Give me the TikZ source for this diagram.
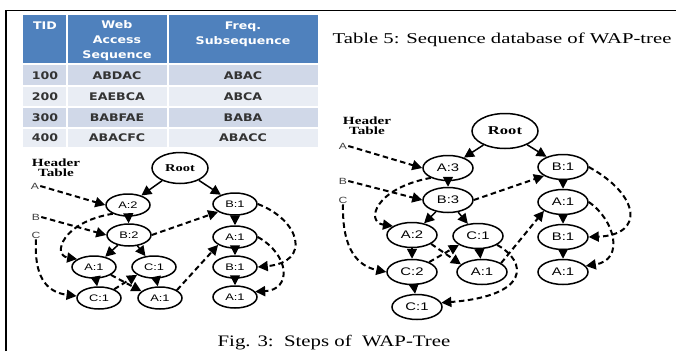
\documentclass[tikz,border=0pt]{standalone}
\usepackage{fontspec}
\setmainfont{Liberation Serif}
\newfontfamily\tabfont[FakeStretch=1.2]{DejaVu Sans}
\newfontfamily\lab[FakeStretch=1.35]{Liberation Sans}
\newfontfamily\ser[FakeStretch=1.38]{Liberation Serif}
\newfontfamily\serb[FakeStretch=1.3]{Liberation Serif}
\usetikzlibrary{shapes.geometric,arrows.meta}
\definecolor{hdr}{HTML}{4F81BD}
\definecolor{rowA}{HTML}{D0D8E8}
\definecolor{rowB}{HTML}{E9EDF4}
\tikzset{
 nd/.style={ellipse, draw, line width=1.5pt, inner sep=0pt, minimum width=44pt, minimum height=22pt, font=\lab\fontsize{9.5}{9.5}\selectfont},
 ndR/.style={nd, minimum width=50pt, minimum height=25pt, font=\lab\fontsize{11}{11}\selectfont},
 rootL/.style={nd, minimum width=56pt, minimum height=31pt, font=\ser\bfseries\fontsize{10.5}{10.5}\selectfont},
 rootR/.style={nd, minimum width=66pt, minimum height=35pt, font=\ser\bfseries\fontsize{12}{12}\selectfont},
 tr/.style={line width=1.5pt, -{Triangle[length=10pt,width=10pt]}},
 hl/.style={line width=2pt, dash pattern=on 5.5pt off 3.5pt, -{Triangle[length=10pt,width=10pt]}},
 hlab/.style={font=\lab\fontsize{9}{9}\selectfont, text=black!75, inner sep=1pt},
 htab/.style={font=\ser\bfseries\fontsize{11}{11}\selectfont, align=center, inner sep=0pt},
 th/.style={font=\tabfont\bfseries\fontsize{10.5}{15}\selectfont, text=white, align=center, inner sep=0pt},
 td/.style={font=\tabfont\bfseries\fontsize{10.5}{12}\selectfont, text=black!80, inner sep=0pt},
 captext/.style={font=\ser\fontsize{15}{15}\selectfont, inner sep=0pt, anchor=base},
 figtext/.style={font=\serb\fontsize{16}{16}\selectfont, inner sep=0pt, anchor=base},
}
\begin{document}
\begin{tikzpicture}[x=1pt,y=-1pt]
\useasboundingbox (0,0) rectangle (676,351);
\fill[white] (0,0) rectangle (676,351);
% frame
\draw[line width=1.4pt] (6,351) -- (6,10.5) -- (676,10.5);
% table
\fill[hdr] (23,15) rectangle (318,64);
\fill[rowA] (23,64) rectangle (318,86);
\fill[rowB] (23,86) rectangle (318,107);
\fill[rowA] (23,107) rectangle (318,128);
\fill[rowB] (23,128) rectangle (318,147);
\draw[white, line width=1.2pt] (67,15) -- (67,147) (168,15) -- (168,147)
  (23,64) -- (318,64) (23,86) -- (318,86) (23,107) -- (318,107) (23,128) -- (318,128);
\node[th] (h1) at (45,26) {TID};
\node[th] (h2) at (117,41) {Web\\Access\\Sequence};
\node[th] (h3) at (243,34.5) {Freq.\\Subsequence};
\node[td] (r1a) at (45,76) {100};
\node[td] (r1b) at (117,76) {ABDAC};
\node[td] (r1c) at (243,76) {ABAC};
\node[td] (r2a) at (45,97) {200};
\node[td] (r2b) at (117,97) {EAEBCA};
\node[td] (r2c) at (243,97) {ABCA};
\node[td] (r3a) at (45,118) {300};
\node[td] (r3b) at (117,118) {BABFAE};
\node[td] (r3c) at (243,118) {BABA};
\node[td] (r4a) at (45,137.5) {400};
\node[td] (r4b) at (117,137.5) {ABACFC};
\node[td] (r4c) at (243,137.5) {ABACC};
% captions
\node[captext] (tcap) at (502,43) {Table 5: Sequence database of WAP-tree};
\node[figtext] (fcap) at (334,346) {Fig. 3:\ \ Steps of\ \ WAP-Tree};

% ---------- left tree ----------
\node[htab] (LHT) at (56,167.5) {Header\\[-1pt]Table};
\node[hlab] (LhA) at (35,186) {A};
\node[hlab] (LhB) at (36,217) {B};
\node[hlab] (LhC) at (36,235) {C};
\node[rootL] (LRoot) at (180,168) {Root};
\node[nd] (LA2) at (128,205) {A:2};
\node[nd] (LB2) at (129,235) {B:2};
\node[nd] (LA1a) at (94,267) {A:1};
\node[nd] (LC1a) at (154,267) {C:1};
\node[nd] (LC1b) at (99,298) {C:1};
\node[nd] (LA1b) at (160,298) {A:1};
\node[nd] (LB1a) at (235,204) {B:1};
\node[nd] (LA1c) at (235,237) {A:1};
\node[nd] (LB1b) at (235,267) {B:1};
\node[nd] (LA1d) at (235,297) {A:1};
\draw[tr] (LRoot) -- (LA2);
\draw[tr] (LRoot) -- (LB1a);
\draw[tr] (LA2) -- (LB2);
\draw[tr] (LB2) -- (LA1a);
\draw[tr] (LB2) -- (LC1a);
\draw[tr] (LA1a) -- (LC1b);
\draw[tr] (LC1a) -- (LA1b);
\draw[tr] (LB1a) -- (LA1c);
\draw[tr] (LA1c) -- (LB1b);
\draw[tr] (LB1b) -- (LA1d);
% header links
\draw[hl] (LhA.east) -- (LA2.west);
\draw[hl] (LA2.210) .. controls (62,222) and (52,255) .. (LA1a.155);
\draw[hl] (LA1a.-25) -- (LA1b.160);
\draw[hl] (LA1b.25) -- (LA1c.205);
\draw[hl] (LA1c.east) .. controls (290,255) and (292,290) .. (LA1d.15);
\draw[hl] (LhB.east) -- (LB2.west);
\draw[hl] (LB2.east) -- (LB1a.205);
\draw[hl] (LB1a.east) .. controls (300,220) and (312,262) .. (LB1b.east);
\draw[hl] (LhC.south) .. controls (34,275) and (45,292) .. (LC1b.175);
\draw[hl] (LC1b.30) -- (LC1a.205);

% ---------- right tree ----------
\node[htab] (RHT) at (367,125.5) {Header\\[-1pt]Table};
\node[hlab] (RhA) at (343,146) {A};
\node[hlab] (RhB) at (343,181) {B};
\node[hlab] (RhC) at (343,200) {C};
\node[rootR] (RRoot) at (505,131) {Root};
\node[ndR] (RA3) at (448,168) {A:3};
\node[ndR] (RB3) at (448,200) {B:3};
\node[ndR] (RA2) at (412,235) {A:2};
\node[ndR] (RC1a) at (478,236) {C:1};
\node[ndR] (RC2) at (412,272) {C:2};
\node[ndR] (RA1a) at (482,272) {A:1};
\node[ndR] (RC1b) at (417,307) {C:1};
\node[ndR] (RB1a) at (563,167) {B:1};
\node[ndR] (RA1b) at (563,202) {A:1};
\node[ndR] (RB1b) at (563,237) {B:1};
\node[ndR] (RA1c) at (563,272) {A:1};
\draw[tr] (RRoot) -- (RA3);
\draw[tr] (RRoot) -- (RB1a);
\draw[tr] (RA3) -- (RB3);
\draw[tr] (RB3) -- (RA2);
\draw[tr] (RB3) -- (RC1a);
\draw[tr] (RA2) -- (RC2);
\draw[tr] (RC2) -- (RC1b);
\draw[tr] (RC1a) -- (RA1a);
\draw[tr] (RB1a) -- (RA1b);
\draw[tr] (RA1b) -- (RB1b);
\draw[tr] (RB1b) -- (RA1c);
% header links
\draw[hl] (RhA.east) -- (RA3.west);
\draw[hl] (RA3.210) .. controls (375,188) and (365,222) .. (RA2.155);
\draw[hl] (RA2.-25) -- (RA1a.160);
\draw[hl] (RA1a.25) -- (RA1b.205);
\draw[hl] (RA1b.east) .. controls (615,220) and (625,260) .. (RA1c.15);
\draw[hl] (RhB.east) -- (RB3.west);
\draw[hl] (RB3.east) -- (RB1a.205);
\draw[hl] (RB1a.east) .. controls (640,195) and (645,235) .. (RB1b.east);
\draw[hl] (RhC.south) .. controls (342,250) and (358,266) .. (RC2.west);
\draw[hl] (RC2.30) -- (RC1a.205);
\draw[hl] (RC1a.-25) .. controls (528,262) and (530,296) .. (RC1b.10);
\end{tikzpicture}
\end{document}
